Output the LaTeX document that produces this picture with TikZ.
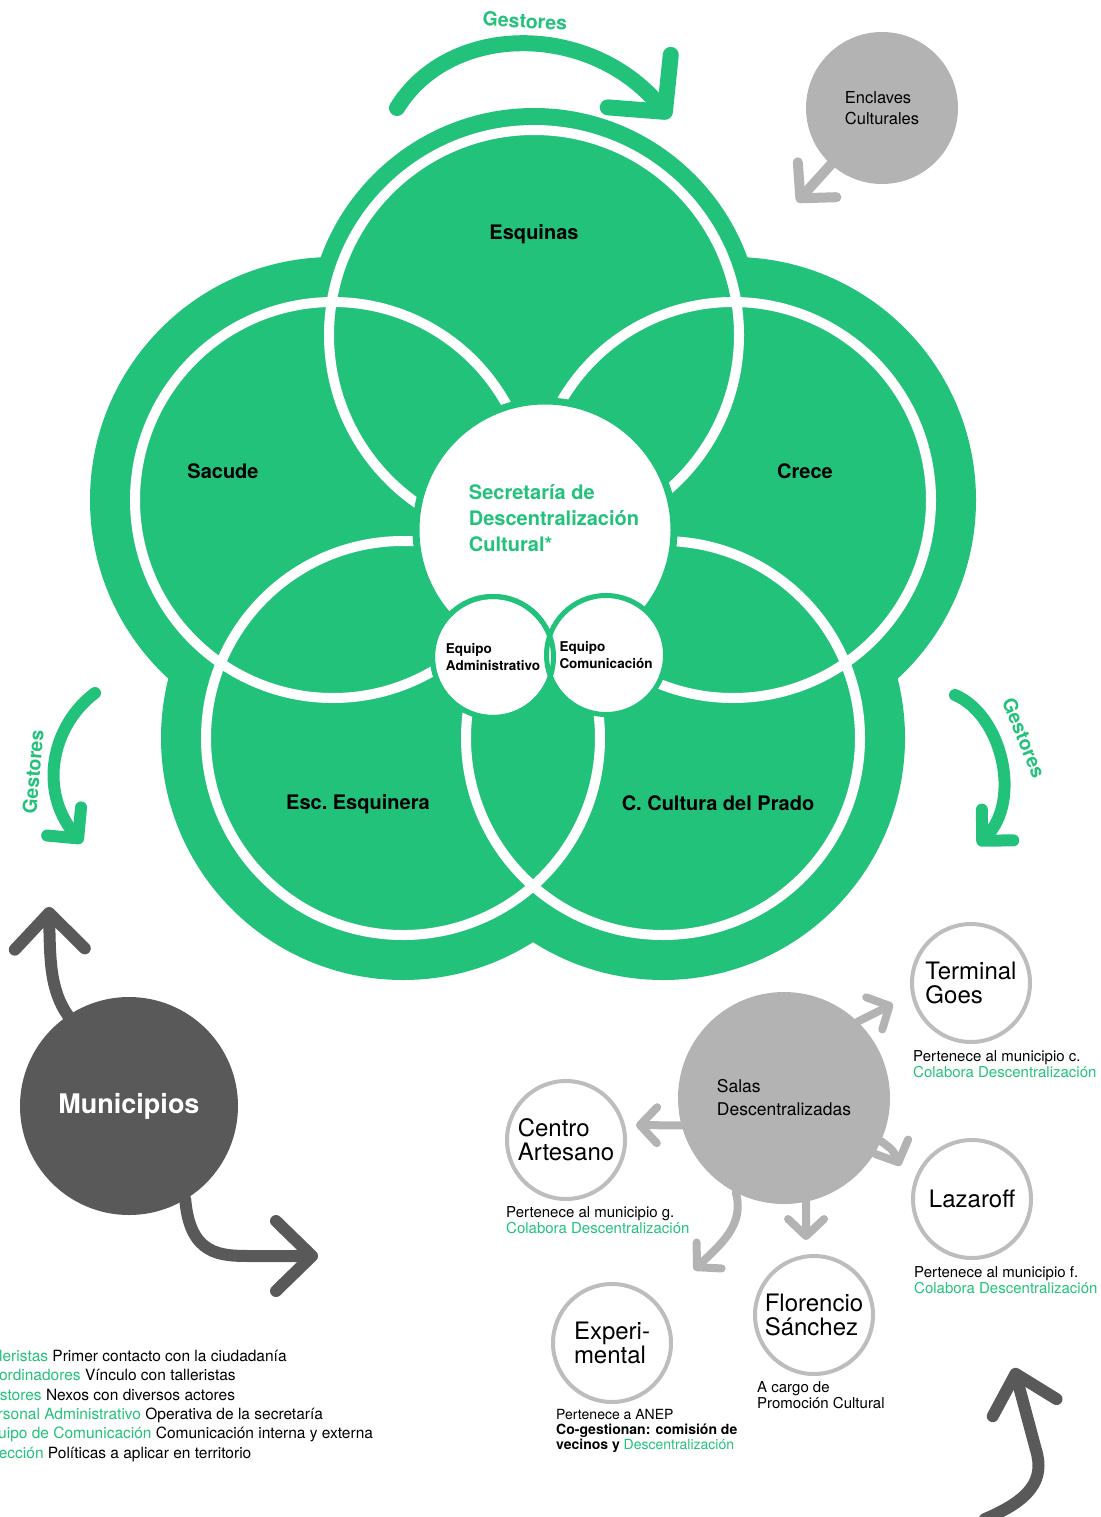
\documentclass[tikz,border=0pt]{standalone}
\usepackage{fontspec}
\setmainfont{TeX Gyre Heros}
\usetikzlibrary{arrows.meta,positioning,backgrounds}

\definecolor{flowgreen}{HTML}{22C27B}
\definecolor{salagray}{HTML}{B3B3B3}
\definecolor{munigray}{HTML}{595959}
\definecolor{ringgray}{HTML}{BDBDBD}

\tikzset{
    petal/.style = {font=\fontsize{20}{24}\selectfont\bfseries},
    gestor/.style = {text=flowgreen, font=\fontsize{19.5}{22}\selectfont\bfseries},
    equipo/.style = {circle, draw=flowgreen, line width=5pt, fill=white, minimum size=121pt,
        inner sep=0pt, align=left, font=\fontsize{13.5}{17}\selectfont\bfseries},
    sat/.style = {circle, draw=ringgray, line width=4pt, fill=white, minimum size=118pt,
        inner sep=0pt, align=left, font=\fontsize{24}{24}\selectfont},
    caption/.style = {anchor=north west, inner sep=0pt, align=left,
        font=\fontsize{15}{16}\selectfont},
    greenarrow/.style = {draw=flowgreen, line width=12pt, line cap=round,
        -{Straight Barb[length=22pt,width=44pt,round]}},
    salarrow/.style = {draw=salagray, line width=8pt, line cap=round,
        -{Straight Barb[length=17pt,width=36pt,round]}},
    muniarrow/.style = {draw=munigray, line width=12pt, line cap=round,
        -{Straight Barb[length=36pt,width=70pt,round]}}
}

\begin{document}
\begin{tikzpicture}[x=1pt, y=-1pt]
    \useasboundingbox (0,0) rectangle (1100,1517);

    % flower: green discs, then the white rings
    \foreach \cx/\cy/\r/\ring in {534/335/205/22, 333/500/198/45, 733/500/198/45,
        403/738/197/45, 663/738/197/45}
        \fill[flowgreen] (\cx,\cy) circle ({\r+\ring});
    \foreach \cx/\cy/\r in {534/335/205, 333/500/198, 733/500/198, 403/738/197, 663/738/197}
        \draw[white, line width=10pt] (\cx,\cy) circle (\r);

    \node[petal] (esquinas) at (534,234) {Esquinas};
    \node[petal] (sacude) at (223,471) {Sacude};
    \node[petal] (crece) at (805,471) {Crece};
    \node[petal] (escuela) at (358,804) {Esc.\ Esquinera};
    \node[petal] (prado) at (718,803) {C.\ Cultura del Prado};

    % centre
    \node[circle, draw=flowgreen, line width=7pt, fill=white, minimum size=258pt, inner sep=0pt]
        (secretaria) at (545,530) {};
    \node[align=left, text=flowgreen, font=\fontsize{20}{26}\selectfont\bfseries]
        (secrtext) at (554,518) {Secretaría de\\Descentralización\\Cultural*};
    \node[equipo] (admin) at (493,657) {Equipo\\Administrativo};
    \node[equipo, minimum size=119pt] (comu) at (606,655) {Equipo\\Comunicación};
    \draw[flowgreen, line width=5pt] (admin.center) circle (60.5);

    % gestores arrows
    \coordinate (gtopa) at (397,108);
    \coordinate (gtopb) at (670,118);
    \draw[greenarrow, line width=16pt, -{Straight Barb[length=40pt,width=82pt,round]}]
        (gtopa) .. controls (450,22) and (590,22) .. (gtopb);
    \node[gestor, rotate=-3] (gtoptext) at (525,21) {Gestores};

    \coordinate (glefta) at (95,693);
    \coordinate (gleftb) at (82,843);
    \draw[greenarrow] (glefta) .. controls (52,725) and (38,790) .. (gleftb);
    \node[gestor, rotate=85] (glefttext) at (33,772) {Gestores};

    \coordinate (grighta) at (955,695);
    \coordinate (grightb) at (978,845);
    \draw[greenarrow] (grighta) .. controls (1002,715) and (1022,800) .. (grightb);
    \node[gestor, rotate=-68] (grighttext) at (1024,738) {Gestores};

    % enclaves
    \node[circle, fill=salagray, minimum size=152pt, inner sep=0pt, align=left,
        font=\fontsize{16.5}{21}\selectfont] (enclaves) at (882,108) {Enclaves\\Culturales};
    \coordinate (encend) at (797,202);

    % municipios
    \node[circle, fill=munigray, minimum size=218pt, inner sep=0pt, text=white,
        font=\fontsize{27}{30}\selectfont\bfseries] (muni) at (129,1106) {Municipios};
    \coordinate (muniup) at (49,907);
    \coordinate (munibend) at (250,1256);
    \coordinate (muniright) at (318,1256);

    % salas
    \node[circle, fill=salagray, minimum size=212pt, inner sep=0pt, align=left,
        font=\fontsize{17.5}{23}\selectfont] (sala) at (784,1098) {Salas\\Descentralizadas};

    \node[sat] (goes) at (971,983) {Terminal\\Goes};
    \node[sat] (artesano) at (566,1140) {Centro\\Artesano};
    \node[sat] (lazaroff) at (972,1199) {Lazaroff};
    \node[sat] (florencio) at (814,1315) {Florencio\\Sánchez};
    \node[sat] (experimental) at (612,1343) {Experi-\\mental};

    \node[caption] (goescap) at (913,1050)
        {Pertenece al municipio c.\\\textcolor{flowgreen}{Colabora Descentralización}};
    \node[caption] (artesanocap) at (506,1206)
        {Pertenece al municipio g.\\\textcolor{flowgreen}{Colabora Descentralización}};
    \node[caption] (lazaroffcap) at (914,1266)
        {Pertenece al municipio f.\\\textcolor{flowgreen}{Colabora Descentralización}};
    \node[caption] (florenciocap) at (757,1381) {A cargo de\\Promoción Cultural};
    \node[caption, font=\fontsize{14}{15}\selectfont] (experimentalcap) at (556,1409)
        {Pertenece a ANEP\\\textbf{Co-gestionan: comisión de}\\
        \textbf{vecinos y} \textcolor{flowgreen}{Descentralización}};

    \coordinate (goestip) at (893,1004);
    \coordinate (artesanotip) at (636,1125);
    \coordinate (lazarofftip) at (900,1166);
    \coordinate (florenciotip) at (806,1240);
    \coordinate (experimentaltip) at (694,1270);
    \coordinate (cornera) at (985,1519);
    \coordinate (cornerb) at (1014,1368);

    \begin{scope}[on background layer]
        \draw[salarrow, line width=10pt, -{Straight Barb[length=25pt,width=52pt,round]}]
            (enclaves) -- (encend);
        \draw[muniarrow] (muni.124) .. controls (50,990) and (50,960) .. (muniup);
        \draw[muniarrow] (muni.-59) .. controls (190,1255) and (220,1256) .. (munibend)
            -- (muniright);
        \draw[salarrow] (sala.46) -- (goestip);
        \draw[salarrow] (sala.-165) -- (artesanotip);
        \draw[salarrow] (sala.-24) .. controls (893,1150) .. (lazarofftip);
        \draw[salarrow] (sala.-78) -- (florenciotip);
        \draw[salarrow] (sala.-117) .. controls (745,1225) and (720,1245) .. (experimentaltip);
    \end{scope}
    \draw[muniarrow, -{Straight Barb[length=35pt,width=66pt,round]}]
        (cornera) .. controls (1030,1500) and (1045,1480) .. (1036,1450) -- (cornerb);

    % legend
    \node[anchor=north west, inner sep=0pt, align=left, font=\fontsize{15.5}{19.3}\selectfont]
        (legend) at (-21,1350) {%
        \textcolor{flowgreen}{Talleristas} Primer contacto con la ciudadanía\\
        \textcolor{flowgreen}{Coordinadores} Vínculo con talleristas\\
        \textcolor{flowgreen}{Gestores} Nexos con diversos actores\\
        \textcolor{flowgreen}{Personal Administrativo} Operativa de la secretaría\\
        \textcolor{flowgreen}{Equipo de Comunicación} Comunicación interna y externa\\
        \textcolor{flowgreen}{Dirección} Políticas a aplicar en territorio};
\end{tikzpicture}
\end{document}
